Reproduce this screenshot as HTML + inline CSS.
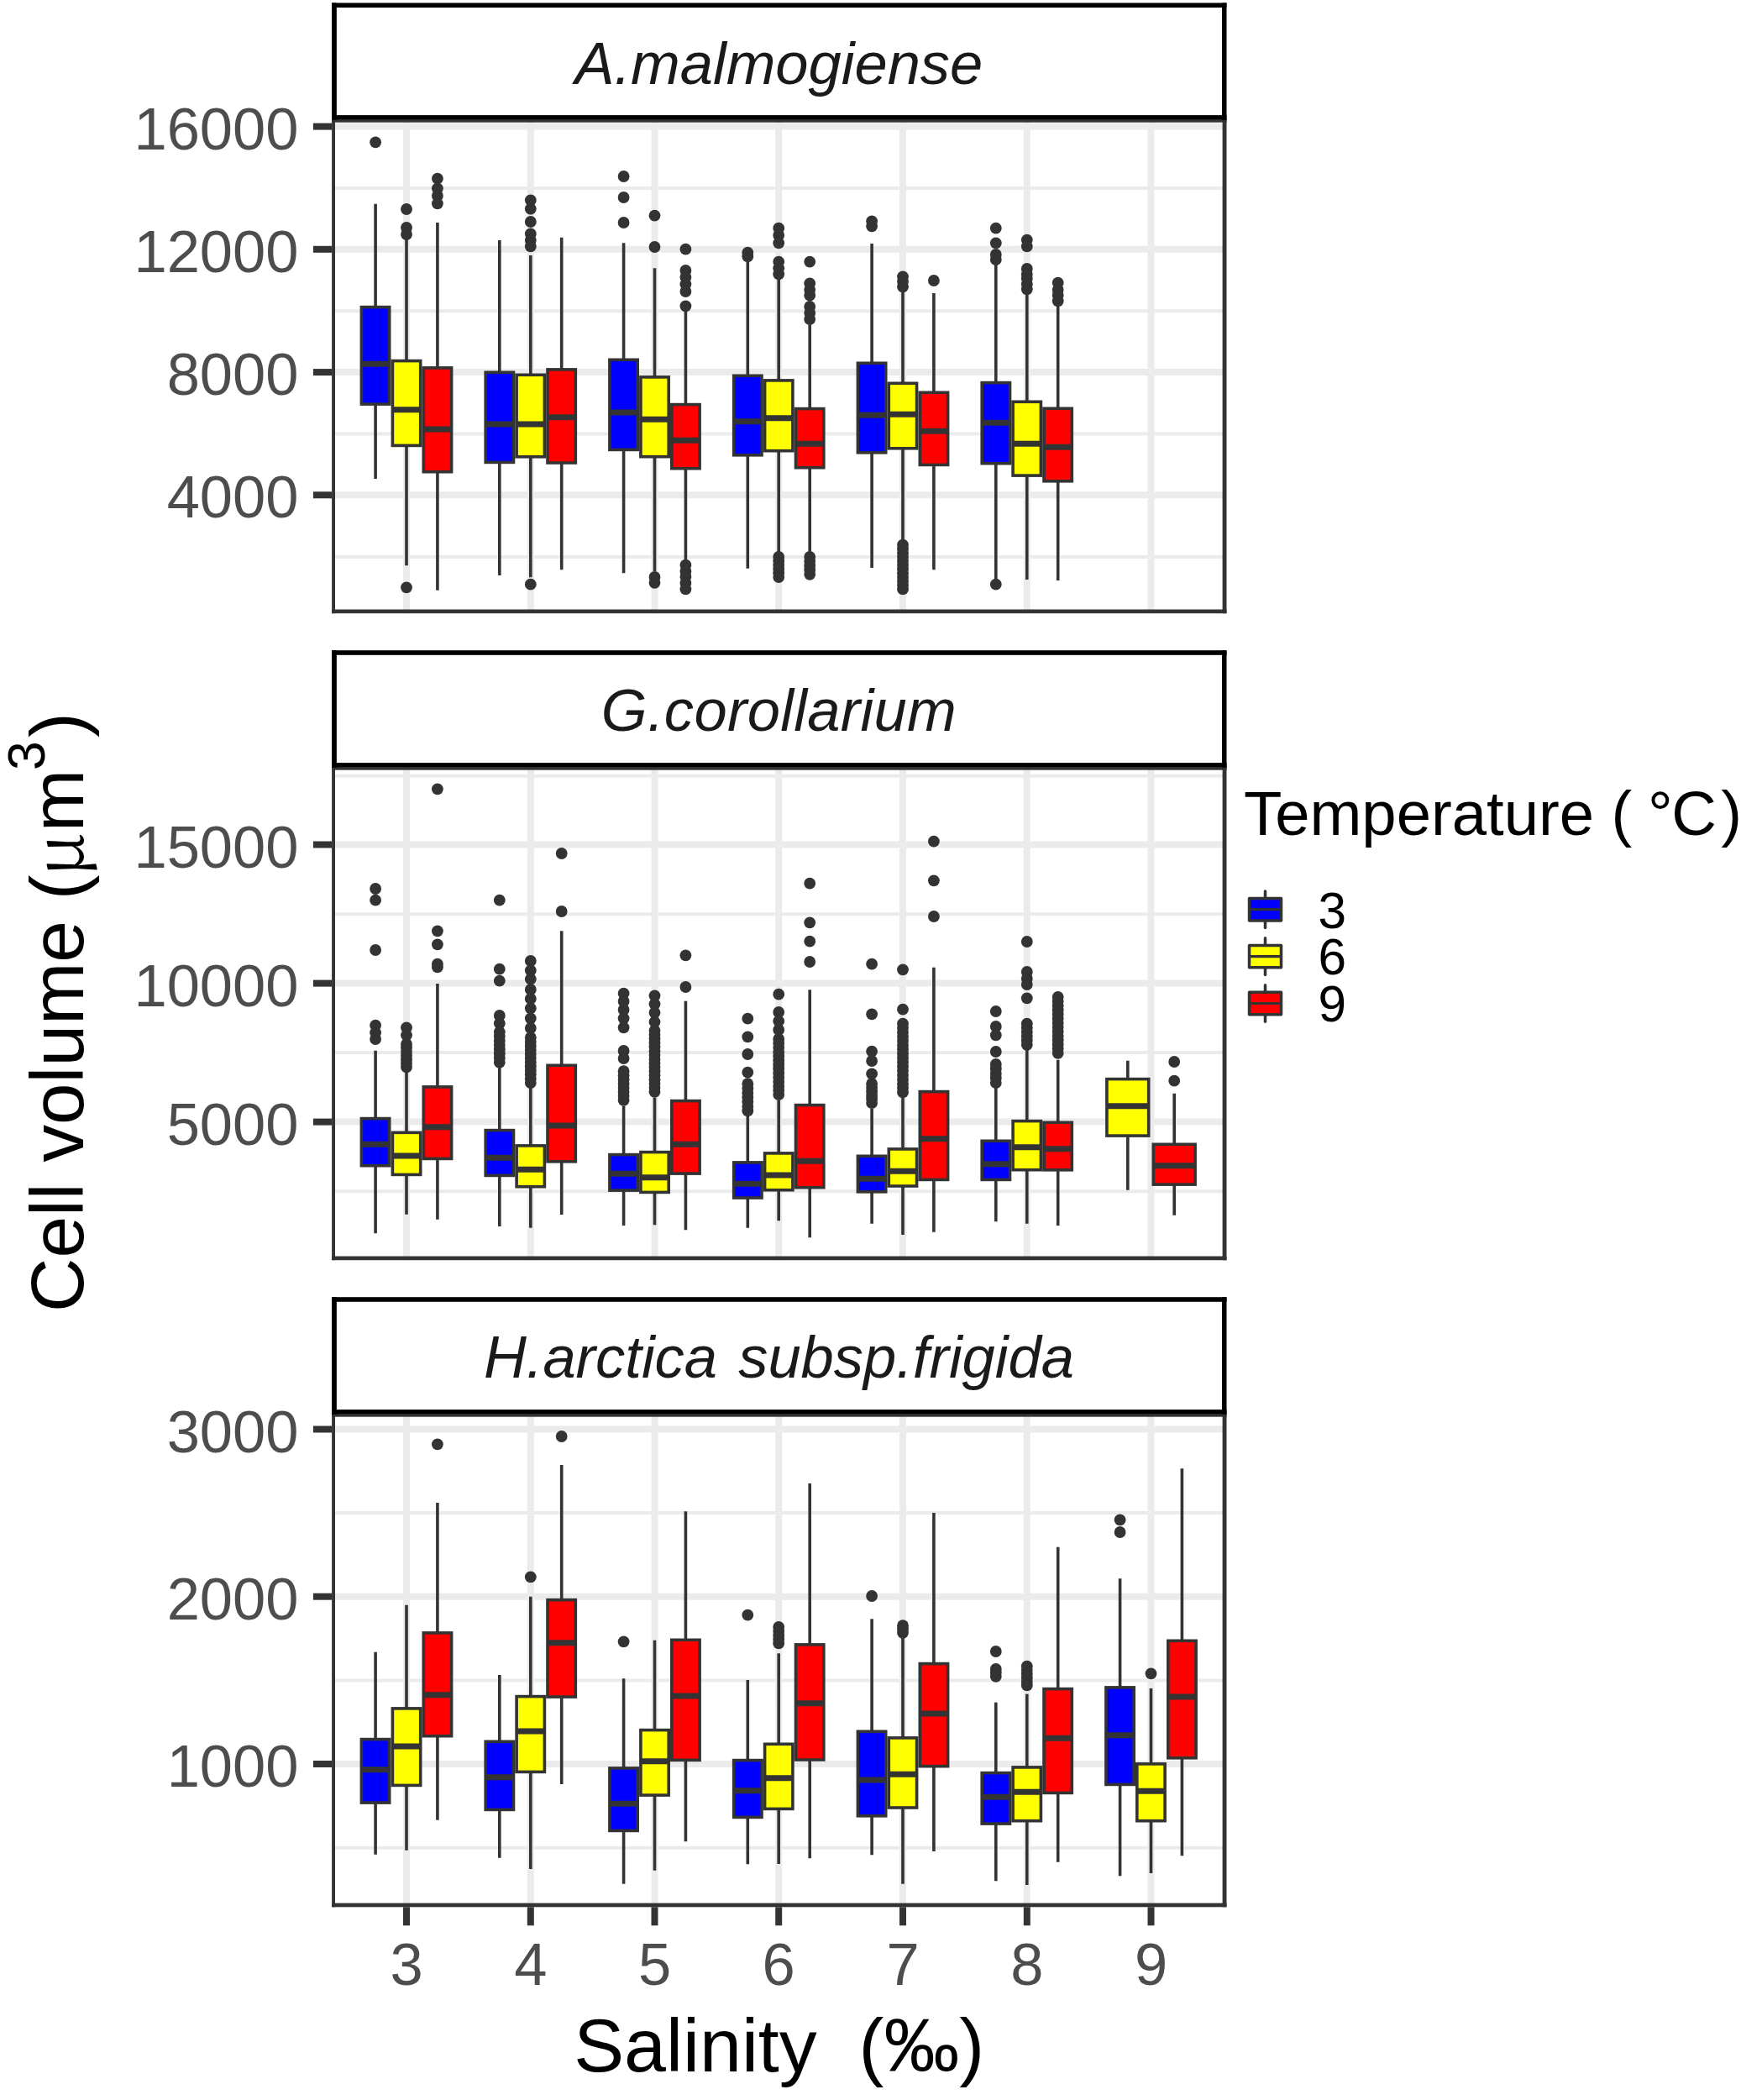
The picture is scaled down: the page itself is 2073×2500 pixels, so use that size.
<!DOCTYPE html>
<html lang="en"><head><meta charset="utf-8"><title>Cell volume vs salinity</title>
<style>html,body{margin:0;padding:0;background:#fff}svg{display:block}text{font-family:"Liberation Sans",sans-serif}.ax{font-size:70.5px;fill:#4D4D4D}.st{font-size:70.5px;fill:#1A1A1A;font-style:italic}.tt{font-size:90px;fill:#000}.lt{font-size:74.3px;fill:#000}.mu{font-family:"Noto Serif CJK SC","Liberation Serif",serif;font-style:normal}.ll{font-size:60.3px;fill:#000}</style></head><body>
<svg width="2073" height="2500" viewBox="0 0 2073 2500">
<rect x="0" y="0" width="2073" height="2500" fill="#fff"/>
<defs>
<clipPath id="cp0"><rect x="395.1" y="142.8" width="1064.5" height="587.4"/></clipPath>
<clipPath id="cp1"><rect x="395.1" y="913.8" width="1064.5" height="586.4"/></clipPath>
<clipPath id="cp2"><rect x="395.1" y="1683.8" width="1064.5" height="586.5"/></clipPath>
</defs>
<g clip-path="url(#cp0)">
<line x1="395.1" x2="1459.6" y1="224.0" y2="224.0" stroke="#EBEBEB" stroke-width="4"/>
<line x1="395.1" x2="1459.6" y1="370.3" y2="370.3" stroke="#EBEBEB" stroke-width="4"/>
<line x1="395.1" x2="1459.6" y1="516.5" y2="516.5" stroke="#EBEBEB" stroke-width="4"/>
<line x1="395.1" x2="1459.6" y1="663.0" y2="663.0" stroke="#EBEBEB" stroke-width="4"/>
<line x1="395.1" x2="1459.6" y1="150.6" y2="150.6" stroke="#EBEBEB" stroke-width="8"/>
<line x1="395.1" x2="1459.6" y1="296.8" y2="296.8" stroke="#EBEBEB" stroke-width="8"/>
<line x1="395.1" x2="1459.6" y1="443.1" y2="443.1" stroke="#EBEBEB" stroke-width="8"/>
<line x1="395.1" x2="1459.6" y1="589.3" y2="589.3" stroke="#EBEBEB" stroke-width="8"/>
<line x1="484.0" x2="484.0" y1="142.8" y2="730.2" stroke="#EBEBEB" stroke-width="8"/>
<line x1="631.8" x2="631.8" y1="142.8" y2="730.2" stroke="#EBEBEB" stroke-width="8"/>
<line x1="779.5" x2="779.5" y1="142.8" y2="730.2" stroke="#EBEBEB" stroke-width="8"/>
<line x1="927.2" x2="927.2" y1="142.8" y2="730.2" stroke="#EBEBEB" stroke-width="8"/>
<line x1="1075.0" x2="1075.0" y1="142.8" y2="730.2" stroke="#EBEBEB" stroke-width="8"/>
<line x1="1222.8" x2="1222.8" y1="142.8" y2="730.2" stroke="#EBEBEB" stroke-width="8"/>
<line x1="1370.5" x2="1370.5" y1="142.8" y2="730.2" stroke="#EBEBEB" stroke-width="8"/>
<circle cx="447.1" cy="169.3" r="6.9" fill="#333333"/>
<line x1="447.1" x2="447.1" y1="242.7" y2="365.6" stroke="#333333" stroke-width="3.6"/>
<line x1="447.1" x2="447.1" y1="481.1" y2="570.0" stroke="#333333" stroke-width="3.6"/>
<rect x="430.4" y="365.6" width="33.3" height="115.5" fill="#0000FF" stroke="#333333" stroke-width="3.6"/>
<line x1="430.4" x2="463.7" y1="433.3" y2="433.3" stroke="#333333" stroke-width="6.9"/>
<circle cx="484.0" cy="249.0" r="6.9" fill="#333333"/>
<circle cx="484.0" cy="271.0" r="6.9" fill="#333333"/>
<circle cx="484.0" cy="279.0" r="6.9" fill="#333333"/>
<circle cx="484.0" cy="699.3" r="6.9" fill="#333333"/>
<line x1="484.0" x2="484.0" y1="285.0" y2="429.6" stroke="#333333" stroke-width="3.6"/>
<line x1="484.0" x2="484.0" y1="530.4" y2="673.3" stroke="#333333" stroke-width="3.6"/>
<rect x="467.4" y="429.6" width="33.3" height="100.8" fill="#FFFF00" stroke="#333333" stroke-width="3.6"/>
<line x1="467.4" x2="500.6" y1="487.7" y2="487.7" stroke="#333333" stroke-width="6.9"/>
<circle cx="520.9" cy="212.7" r="6.9" fill="#333333"/>
<circle cx="520.9" cy="224.3" r="6.9" fill="#333333"/>
<circle cx="520.9" cy="233.0" r="6.9" fill="#333333"/>
<circle cx="520.9" cy="242.3" r="6.9" fill="#333333"/>
<line x1="520.9" x2="520.9" y1="265.0" y2="437.9" stroke="#333333" stroke-width="3.6"/>
<line x1="520.9" x2="520.9" y1="561.7" y2="702.7" stroke="#333333" stroke-width="3.6"/>
<rect x="504.3" y="437.9" width="33.3" height="123.8" fill="#FF0000" stroke="#333333" stroke-width="3.6"/>
<line x1="504.3" x2="537.6" y1="511.0" y2="511.0" stroke="#333333" stroke-width="6.9"/>
<line x1="594.8" x2="594.8" y1="286.0" y2="443.3" stroke="#333333" stroke-width="3.6"/>
<line x1="594.8" x2="594.8" y1="550.4" y2="685.0" stroke="#333333" stroke-width="3.6"/>
<rect x="578.2" y="443.3" width="33.3" height="107.1" fill="#0000FF" stroke="#333333" stroke-width="3.6"/>
<line x1="578.2" x2="611.5" y1="505.0" y2="505.0" stroke="#333333" stroke-width="6.9"/>
<circle cx="631.8" cy="238.3" r="6.9" fill="#333333"/>
<circle cx="631.8" cy="248.7" r="6.9" fill="#333333"/>
<circle cx="631.8" cy="264.0" r="6.9" fill="#333333"/>
<circle cx="631.8" cy="278.3" r="6.9" fill="#333333"/>
<circle cx="631.8" cy="286.0" r="6.9" fill="#333333"/>
<circle cx="631.8" cy="293.3" r="6.9" fill="#333333"/>
<circle cx="631.8" cy="695.7" r="6.9" fill="#333333"/>
<line x1="631.8" x2="631.8" y1="304.0" y2="446.3" stroke="#333333" stroke-width="3.6"/>
<line x1="631.8" x2="631.8" y1="543.7" y2="687.3" stroke="#333333" stroke-width="3.6"/>
<rect x="615.1" y="446.3" width="33.3" height="97.5" fill="#FFFF00" stroke="#333333" stroke-width="3.6"/>
<line x1="615.1" x2="648.4" y1="505.0" y2="505.0" stroke="#333333" stroke-width="6.9"/>
<line x1="668.7" x2="668.7" y1="282.7" y2="439.9" stroke="#333333" stroke-width="3.6"/>
<line x1="668.7" x2="668.7" y1="551.1" y2="678.3" stroke="#333333" stroke-width="3.6"/>
<rect x="652.0" y="439.9" width="33.3" height="111.1" fill="#FF0000" stroke="#333333" stroke-width="3.6"/>
<line x1="652.0" x2="685.3" y1="496.7" y2="496.7" stroke="#333333" stroke-width="6.9"/>
<circle cx="742.6" cy="210.0" r="6.9" fill="#333333"/>
<circle cx="742.6" cy="235.0" r="6.9" fill="#333333"/>
<circle cx="742.6" cy="265.0" r="6.9" fill="#333333"/>
<line x1="742.6" x2="742.6" y1="289.3" y2="428.3" stroke="#333333" stroke-width="3.6"/>
<line x1="742.6" x2="742.6" y1="535.4" y2="682.3" stroke="#333333" stroke-width="3.6"/>
<rect x="725.9" y="428.3" width="33.3" height="107.1" fill="#0000FF" stroke="#333333" stroke-width="3.6"/>
<line x1="725.9" x2="759.2" y1="491.0" y2="491.0" stroke="#333333" stroke-width="6.9"/>
<circle cx="779.5" cy="256.7" r="6.9" fill="#333333"/>
<circle cx="779.5" cy="294.0" r="6.9" fill="#333333"/>
<circle cx="779.5" cy="686.9" r="6.9" fill="#333333"/>
<circle cx="779.5" cy="693.8" r="6.9" fill="#333333"/>
<line x1="779.5" x2="779.5" y1="319.3" y2="448.9" stroke="#333333" stroke-width="3.6"/>
<line x1="779.5" x2="779.5" y1="543.7" y2="680.0" stroke="#333333" stroke-width="3.6"/>
<rect x="762.9" y="448.9" width="33.3" height="94.8" fill="#FFFF00" stroke="#333333" stroke-width="3.6"/>
<line x1="762.9" x2="796.1" y1="499.3" y2="499.3" stroke="#333333" stroke-width="6.9"/>
<circle cx="816.4" cy="296.7" r="6.9" fill="#333333"/>
<circle cx="816.4" cy="322.0" r="6.9" fill="#333333"/>
<circle cx="816.4" cy="330.0" r="6.9" fill="#333333"/>
<circle cx="816.4" cy="338.3" r="6.9" fill="#333333"/>
<circle cx="816.4" cy="347.0" r="6.9" fill="#333333"/>
<circle cx="816.4" cy="364.3" r="6.9" fill="#333333"/>
<circle cx="816.4" cy="672.7" r="6.9" fill="#333333"/>
<circle cx="816.4" cy="680.0" r="6.9" fill="#333333"/>
<circle cx="816.4" cy="686.7" r="6.9" fill="#333333"/>
<circle cx="816.4" cy="694.0" r="6.9" fill="#333333"/>
<circle cx="816.4" cy="701.3" r="6.9" fill="#333333"/>
<line x1="816.4" x2="816.4" y1="370.0" y2="481.6" stroke="#333333" stroke-width="3.6"/>
<line x1="816.4" x2="816.4" y1="557.7" y2="666.7" stroke="#333333" stroke-width="3.6"/>
<rect x="799.8" y="481.6" width="33.3" height="76.1" fill="#FF0000" stroke="#333333" stroke-width="3.6"/>
<line x1="799.8" x2="833.1" y1="524.3" y2="524.3" stroke="#333333" stroke-width="6.9"/>
<circle cx="890.3" cy="300.7" r="6.9" fill="#333333"/>
<circle cx="890.3" cy="305.3" r="6.9" fill="#333333"/>
<line x1="890.3" x2="890.3" y1="311.7" y2="447.3" stroke="#333333" stroke-width="3.6"/>
<line x1="890.3" x2="890.3" y1="541.7" y2="676.7" stroke="#333333" stroke-width="3.6"/>
<rect x="873.7" y="447.3" width="33.3" height="94.5" fill="#0000FF" stroke="#333333" stroke-width="3.6"/>
<line x1="873.7" x2="907.0" y1="501.7" y2="501.7" stroke="#333333" stroke-width="6.9"/>
<circle cx="927.2" cy="271.7" r="6.9" fill="#333333"/>
<circle cx="927.2" cy="280.0" r="6.9" fill="#333333"/>
<circle cx="927.2" cy="289.3" r="6.9" fill="#333333"/>
<circle cx="927.2" cy="311.7" r="6.9" fill="#333333"/>
<circle cx="927.2" cy="319.3" r="6.9" fill="#333333"/>
<circle cx="927.2" cy="326.3" r="6.9" fill="#333333"/>
<circle cx="927.2" cy="662.9" r="6.9" fill="#333333"/>
<circle cx="927.2" cy="667.7" r="6.9" fill="#333333"/>
<circle cx="927.2" cy="672.6" r="6.9" fill="#333333"/>
<circle cx="927.2" cy="677.4" r="6.9" fill="#333333"/>
<circle cx="927.2" cy="682.3" r="6.9" fill="#333333"/>
<circle cx="927.2" cy="687.1" r="6.9" fill="#333333"/>
<line x1="927.2" x2="927.2" y1="330.0" y2="452.9" stroke="#333333" stroke-width="3.6"/>
<line x1="927.2" x2="927.2" y1="536.7" y2="658.3" stroke="#333333" stroke-width="3.6"/>
<rect x="910.6" y="452.9" width="33.3" height="83.8" fill="#FFFF00" stroke="#333333" stroke-width="3.6"/>
<line x1="910.6" x2="943.9" y1="497.7" y2="497.7" stroke="#333333" stroke-width="6.9"/>
<circle cx="964.2" cy="311.7" r="6.9" fill="#333333"/>
<circle cx="964.2" cy="337.3" r="6.9" fill="#333333"/>
<circle cx="964.2" cy="345.0" r="6.9" fill="#333333"/>
<circle cx="964.2" cy="351.7" r="6.9" fill="#333333"/>
<circle cx="964.2" cy="365.0" r="6.9" fill="#333333"/>
<circle cx="964.2" cy="372.7" r="6.9" fill="#333333"/>
<circle cx="964.2" cy="380.0" r="6.9" fill="#333333"/>
<circle cx="964.2" cy="662.9" r="6.9" fill="#333333"/>
<circle cx="964.2" cy="668.1" r="6.9" fill="#333333"/>
<circle cx="964.2" cy="673.3" r="6.9" fill="#333333"/>
<circle cx="964.2" cy="678.5" r="6.9" fill="#333333"/>
<circle cx="964.2" cy="683.8" r="6.9" fill="#333333"/>
<line x1="964.2" x2="964.2" y1="386.7" y2="486.6" stroke="#333333" stroke-width="3.6"/>
<line x1="964.2" x2="964.2" y1="556.7" y2="656.7" stroke="#333333" stroke-width="3.6"/>
<rect x="947.5" y="486.6" width="33.3" height="70.1" fill="#FF0000" stroke="#333333" stroke-width="3.6"/>
<line x1="947.5" x2="980.8" y1="528.3" y2="528.3" stroke="#333333" stroke-width="6.9"/>
<circle cx="1038.1" cy="263.3" r="6.9" fill="#333333"/>
<circle cx="1038.1" cy="269.3" r="6.9" fill="#333333"/>
<line x1="1038.1" x2="1038.1" y1="290.0" y2="432.3" stroke="#333333" stroke-width="3.6"/>
<line x1="1038.1" x2="1038.1" y1="538.7" y2="676.0" stroke="#333333" stroke-width="3.6"/>
<rect x="1021.4" y="432.3" width="33.3" height="106.5" fill="#0000FF" stroke="#333333" stroke-width="3.6"/>
<line x1="1021.4" x2="1054.7" y1="494.3" y2="494.3" stroke="#333333" stroke-width="6.9"/>
<circle cx="1075.0" cy="329.3" r="6.9" fill="#333333"/>
<circle cx="1075.0" cy="335.0" r="6.9" fill="#333333"/>
<circle cx="1075.0" cy="341.3" r="6.9" fill="#333333"/>
<circle cx="1075.0" cy="648.6" r="6.9" fill="#333333"/>
<circle cx="1075.0" cy="653.4" r="6.9" fill="#333333"/>
<circle cx="1075.0" cy="658.2" r="6.9" fill="#333333"/>
<circle cx="1075.0" cy="663.0" r="6.9" fill="#333333"/>
<circle cx="1075.0" cy="667.8" r="6.9" fill="#333333"/>
<circle cx="1075.0" cy="672.6" r="6.9" fill="#333333"/>
<circle cx="1075.0" cy="677.4" r="6.9" fill="#333333"/>
<circle cx="1075.0" cy="682.2" r="6.9" fill="#333333"/>
<circle cx="1075.0" cy="687.0" r="6.9" fill="#333333"/>
<circle cx="1075.0" cy="691.8" r="6.9" fill="#333333"/>
<circle cx="1075.0" cy="696.6" r="6.9" fill="#333333"/>
<circle cx="1075.0" cy="701.4" r="6.9" fill="#333333"/>
<line x1="1075.0" x2="1075.0" y1="346.7" y2="456.3" stroke="#333333" stroke-width="3.6"/>
<line x1="1075.0" x2="1075.0" y1="533.7" y2="643.3" stroke="#333333" stroke-width="3.6"/>
<rect x="1058.3" y="456.3" width="33.3" height="77.5" fill="#FFFF00" stroke="#333333" stroke-width="3.6"/>
<line x1="1058.3" x2="1091.7" y1="493.3" y2="493.3" stroke="#333333" stroke-width="6.9"/>
<circle cx="1111.9" cy="334.0" r="6.9" fill="#333333"/>
<line x1="1111.9" x2="1111.9" y1="349.0" y2="467.3" stroke="#333333" stroke-width="3.6"/>
<line x1="1111.9" x2="1111.9" y1="553.4" y2="678.3" stroke="#333333" stroke-width="3.6"/>
<rect x="1095.3" y="467.3" width="33.3" height="86.1" fill="#FF0000" stroke="#333333" stroke-width="3.6"/>
<line x1="1095.3" x2="1128.6" y1="513.3" y2="513.3" stroke="#333333" stroke-width="6.9"/>
<circle cx="1185.8" cy="271.7" r="6.9" fill="#333333"/>
<circle cx="1185.8" cy="289.3" r="6.9" fill="#333333"/>
<circle cx="1185.8" cy="303.0" r="6.9" fill="#333333"/>
<circle cx="1185.8" cy="309.0" r="6.9" fill="#333333"/>
<circle cx="1185.8" cy="695.7" r="6.9" fill="#333333"/>
<line x1="1185.8" x2="1185.8" y1="315.0" y2="455.6" stroke="#333333" stroke-width="3.6"/>
<line x1="1185.8" x2="1185.8" y1="551.7" y2="690.0" stroke="#333333" stroke-width="3.6"/>
<rect x="1169.2" y="455.6" width="33.3" height="96.1" fill="#0000FF" stroke="#333333" stroke-width="3.6"/>
<line x1="1169.2" x2="1202.5" y1="503.3" y2="503.3" stroke="#333333" stroke-width="6.9"/>
<circle cx="1222.8" cy="285.7" r="6.9" fill="#333333"/>
<circle cx="1222.8" cy="293.3" r="6.9" fill="#333333"/>
<circle cx="1222.8" cy="320.0" r="6.9" fill="#333333"/>
<circle cx="1222.8" cy="326.7" r="6.9" fill="#333333"/>
<circle cx="1222.8" cy="331.7" r="6.9" fill="#333333"/>
<circle cx="1222.8" cy="338.3" r="6.9" fill="#333333"/>
<circle cx="1222.8" cy="344.3" r="6.9" fill="#333333"/>
<line x1="1222.8" x2="1222.8" y1="350.0" y2="478.3" stroke="#333333" stroke-width="3.6"/>
<line x1="1222.8" x2="1222.8" y1="566.1" y2="690.0" stroke="#333333" stroke-width="3.6"/>
<rect x="1206.1" y="478.3" width="33.3" height="87.8" fill="#FFFF00" stroke="#333333" stroke-width="3.6"/>
<line x1="1206.1" x2="1239.4" y1="528.3" y2="528.3" stroke="#333333" stroke-width="6.9"/>
<circle cx="1259.7" cy="336.7" r="6.9" fill="#333333"/>
<circle cx="1259.7" cy="345.0" r="6.9" fill="#333333"/>
<circle cx="1259.7" cy="351.7" r="6.9" fill="#333333"/>
<circle cx="1259.7" cy="358.3" r="6.9" fill="#333333"/>
<line x1="1259.7" x2="1259.7" y1="365.0" y2="486.3" stroke="#333333" stroke-width="3.6"/>
<line x1="1259.7" x2="1259.7" y1="572.7" y2="691.0" stroke="#333333" stroke-width="3.6"/>
<rect x="1243.0" y="486.3" width="33.3" height="86.5" fill="#FF0000" stroke="#333333" stroke-width="3.6"/>
<line x1="1243.0" x2="1276.3" y1="532.3" y2="532.3" stroke="#333333" stroke-width="6.9"/>
</g>
<rect x="395.1" y="141.70" width="3.9" height="588.50" fill="#333333"/>
<rect x="1455.6" y="141.70" width="4.9" height="588.50" fill="#333333"/>
<rect x="395.1" y="141.70" width="1065.4" height="4.0" fill="#333333"/>
<rect x="395.1" y="725.50" width="1065.4" height="4.7" fill="#333333"/>
<rect x="395.0" y="3.45" width="1065.5" height="139.35" fill="#fff"/>
<rect x="395.0" y="3.45" width="5.85" height="139.35" fill="#000"/>
<rect x="1455.0" y="3.45" width="5.5" height="139.35" fill="#000"/>
<rect x="395.0" y="3.45" width="1065.5" height="5.6" fill="#000"/>
<rect x="395.0" y="137.10" width="1065.5" height="5.7" fill="#000"/>
<line x1="372.9" x2="395.1" y1="150.6" y2="150.6" stroke="#333333" stroke-width="8"/>
<text class="ax" x="355.5" y="177.6" text-anchor="end">16000</text>
<line x1="372.9" x2="395.1" y1="296.8" y2="296.8" stroke="#333333" stroke-width="8"/>
<text class="ax" x="355.5" y="323.8" text-anchor="end">12000</text>
<line x1="372.9" x2="395.1" y1="443.1" y2="443.1" stroke="#333333" stroke-width="8"/>
<text class="ax" x="355.5" y="470.1" text-anchor="end">8000</text>
<line x1="372.9" x2="395.1" y1="589.3" y2="589.3" stroke="#333333" stroke-width="8"/>
<text class="ax" x="355.5" y="616.3" text-anchor="end">4000</text>
<g clip-path="url(#cp1)">
<line x1="395.1" x2="1459.6" y1="923.7" y2="923.7" stroke="#EBEBEB" stroke-width="4"/>
<line x1="395.1" x2="1459.6" y1="1088.2" y2="1088.2" stroke="#EBEBEB" stroke-width="4"/>
<line x1="395.1" x2="1459.6" y1="1253.0" y2="1253.0" stroke="#EBEBEB" stroke-width="4"/>
<line x1="395.1" x2="1459.6" y1="1418.2" y2="1418.2" stroke="#EBEBEB" stroke-width="4"/>
<line x1="395.1" x2="1459.6" y1="1005.5" y2="1005.5" stroke="#EBEBEB" stroke-width="8"/>
<line x1="395.1" x2="1459.6" y1="1170.6" y2="1170.6" stroke="#EBEBEB" stroke-width="8"/>
<line x1="395.1" x2="1459.6" y1="1335.6" y2="1335.6" stroke="#EBEBEB" stroke-width="8"/>
<line x1="484.0" x2="484.0" y1="913.8" y2="1500.2" stroke="#EBEBEB" stroke-width="8"/>
<line x1="631.8" x2="631.8" y1="913.8" y2="1500.2" stroke="#EBEBEB" stroke-width="8"/>
<line x1="779.5" x2="779.5" y1="913.8" y2="1500.2" stroke="#EBEBEB" stroke-width="8"/>
<line x1="927.2" x2="927.2" y1="913.8" y2="1500.2" stroke="#EBEBEB" stroke-width="8"/>
<line x1="1075.0" x2="1075.0" y1="913.8" y2="1500.2" stroke="#EBEBEB" stroke-width="8"/>
<line x1="1222.8" x2="1222.8" y1="913.8" y2="1500.2" stroke="#EBEBEB" stroke-width="8"/>
<line x1="1370.5" x2="1370.5" y1="913.8" y2="1500.2" stroke="#EBEBEB" stroke-width="8"/>
<circle cx="447.1" cy="1058.0" r="6.9" fill="#333333"/>
<circle cx="447.1" cy="1071.7" r="6.9" fill="#333333"/>
<circle cx="447.1" cy="1131.0" r="6.9" fill="#333333"/>
<circle cx="447.1" cy="1220.7" r="6.9" fill="#333333"/>
<circle cx="447.1" cy="1229.3" r="6.9" fill="#333333"/>
<circle cx="447.1" cy="1237.0" r="6.9" fill="#333333"/>
<line x1="447.1" x2="447.1" y1="1250.7" y2="1331.6" stroke="#333333" stroke-width="3.6"/>
<line x1="447.1" x2="447.1" y1="1387.7" y2="1468.3" stroke="#333333" stroke-width="3.6"/>
<rect x="430.4" y="1331.6" width="33.3" height="56.1" fill="#0000FF" stroke="#333333" stroke-width="3.6"/>
<line x1="430.4" x2="463.7" y1="1362.3" y2="1362.3" stroke="#333333" stroke-width="6.9"/>
<circle cx="484.0" cy="1223.3" r="6.9" fill="#333333"/>
<circle cx="484.0" cy="1232.3" r="6.9" fill="#333333"/>
<circle cx="484.0" cy="1242.9" r="6.9" fill="#333333"/>
<circle cx="484.0" cy="1247.5" r="6.9" fill="#333333"/>
<circle cx="484.0" cy="1252.1" r="6.9" fill="#333333"/>
<circle cx="484.0" cy="1256.7" r="6.9" fill="#333333"/>
<circle cx="484.0" cy="1261.3" r="6.9" fill="#333333"/>
<circle cx="484.0" cy="1265.8" r="6.9" fill="#333333"/>
<circle cx="484.0" cy="1270.4" r="6.9" fill="#333333"/>
<line x1="484.0" x2="484.0" y1="1276.7" y2="1348.3" stroke="#333333" stroke-width="3.6"/>
<line x1="484.0" x2="484.0" y1="1398.4" y2="1445.7" stroke="#333333" stroke-width="3.6"/>
<rect x="467.4" y="1348.3" width="33.3" height="50.1" fill="#FFFF00" stroke="#333333" stroke-width="3.6"/>
<line x1="467.4" x2="500.6" y1="1376.0" y2="1376.0" stroke="#333333" stroke-width="6.9"/>
<circle cx="520.9" cy="939.3" r="6.9" fill="#333333"/>
<circle cx="520.9" cy="1108.3" r="6.9" fill="#333333"/>
<circle cx="520.9" cy="1124.3" r="6.9" fill="#333333"/>
<circle cx="520.9" cy="1147.6" r="6.9" fill="#333333"/>
<circle cx="520.9" cy="1151.4" r="6.9" fill="#333333"/>
<line x1="520.9" x2="520.9" y1="1171.0" y2="1293.9" stroke="#333333" stroke-width="3.6"/>
<line x1="520.9" x2="520.9" y1="1379.4" y2="1451.7" stroke="#333333" stroke-width="3.6"/>
<rect x="504.3" y="1293.9" width="33.3" height="85.5" fill="#FF0000" stroke="#333333" stroke-width="3.6"/>
<line x1="504.3" x2="537.6" y1="1341.7" y2="1341.7" stroke="#333333" stroke-width="6.9"/>
<circle cx="594.8" cy="1071.7" r="6.9" fill="#333333"/>
<circle cx="594.8" cy="1153.7" r="6.9" fill="#333333"/>
<circle cx="594.8" cy="1167.7" r="6.9" fill="#333333"/>
<circle cx="594.8" cy="1209.0" r="6.9" fill="#333333"/>
<circle cx="594.8" cy="1218.3" r="6.9" fill="#333333"/>
<circle cx="594.8" cy="1228.6" r="6.9" fill="#333333"/>
<circle cx="594.8" cy="1233.7" r="6.9" fill="#333333"/>
<circle cx="594.8" cy="1238.9" r="6.9" fill="#333333"/>
<circle cx="594.8" cy="1244.1" r="6.9" fill="#333333"/>
<circle cx="594.8" cy="1249.3" r="6.9" fill="#333333"/>
<circle cx="594.8" cy="1254.4" r="6.9" fill="#333333"/>
<circle cx="594.8" cy="1259.6" r="6.9" fill="#333333"/>
<circle cx="594.8" cy="1264.8" r="6.9" fill="#333333"/>
<line x1="594.8" x2="594.8" y1="1270.0" y2="1345.6" stroke="#333333" stroke-width="3.6"/>
<line x1="594.8" x2="594.8" y1="1399.4" y2="1460.0" stroke="#333333" stroke-width="3.6"/>
<rect x="578.2" y="1345.6" width="33.3" height="53.8" fill="#0000FF" stroke="#333333" stroke-width="3.6"/>
<line x1="578.2" x2="611.5" y1="1378.3" y2="1378.3" stroke="#333333" stroke-width="6.9"/>
<circle cx="631.8" cy="1144.0" r="6.9" fill="#333333"/>
<circle cx="631.8" cy="1155.3" r="6.9" fill="#333333"/>
<circle cx="631.8" cy="1165.7" r="6.9" fill="#333333"/>
<circle cx="631.8" cy="1178.0" r="6.9" fill="#333333"/>
<circle cx="631.8" cy="1189.0" r="6.9" fill="#333333"/>
<circle cx="631.8" cy="1200.3" r="6.9" fill="#333333"/>
<circle cx="631.8" cy="1212.3" r="6.9" fill="#333333"/>
<circle cx="631.8" cy="1224.0" r="6.9" fill="#333333"/>
<circle cx="631.8" cy="1235.2" r="6.9" fill="#333333"/>
<circle cx="631.8" cy="1240.1" r="6.9" fill="#333333"/>
<circle cx="631.8" cy="1245.0" r="6.9" fill="#333333"/>
<circle cx="631.8" cy="1249.9" r="6.9" fill="#333333"/>
<circle cx="631.8" cy="1254.8" r="6.9" fill="#333333"/>
<circle cx="631.8" cy="1259.7" r="6.9" fill="#333333"/>
<circle cx="631.8" cy="1264.6" r="6.9" fill="#333333"/>
<circle cx="631.8" cy="1269.5" r="6.9" fill="#333333"/>
<circle cx="631.8" cy="1274.4" r="6.9" fill="#333333"/>
<circle cx="631.8" cy="1279.3" r="6.9" fill="#333333"/>
<circle cx="631.8" cy="1284.2" r="6.9" fill="#333333"/>
<circle cx="631.8" cy="1289.1" r="6.9" fill="#333333"/>
<line x1="631.8" x2="631.8" y1="1295.0" y2="1363.9" stroke="#333333" stroke-width="3.6"/>
<line x1="631.8" x2="631.8" y1="1412.7" y2="1461.7" stroke="#333333" stroke-width="3.6"/>
<rect x="615.1" y="1363.9" width="33.3" height="48.8" fill="#FFFF00" stroke="#333333" stroke-width="3.6"/>
<line x1="615.1" x2="648.4" y1="1392.3" y2="1392.3" stroke="#333333" stroke-width="6.9"/>
<circle cx="668.7" cy="1016.0" r="6.9" fill="#333333"/>
<circle cx="668.7" cy="1085.0" r="6.9" fill="#333333"/>
<line x1="668.7" x2="668.7" y1="1108.3" y2="1268.3" stroke="#333333" stroke-width="3.6"/>
<line x1="668.7" x2="668.7" y1="1382.7" y2="1446.0" stroke="#333333" stroke-width="3.6"/>
<rect x="652.0" y="1268.3" width="33.3" height="114.5" fill="#FF0000" stroke="#333333" stroke-width="3.6"/>
<line x1="652.0" x2="685.3" y1="1340.0" y2="1340.0" stroke="#333333" stroke-width="6.9"/>
<circle cx="742.6" cy="1182.7" r="6.9" fill="#333333"/>
<circle cx="742.6" cy="1192.0" r="6.9" fill="#333333"/>
<circle cx="742.6" cy="1202.0" r="6.9" fill="#333333"/>
<circle cx="742.6" cy="1212.3" r="6.9" fill="#333333"/>
<circle cx="742.6" cy="1223.3" r="6.9" fill="#333333"/>
<circle cx="742.6" cy="1251.0" r="6.9" fill="#333333"/>
<circle cx="742.6" cy="1260.0" r="6.9" fill="#333333"/>
<circle cx="742.6" cy="1275.2" r="6.9" fill="#333333"/>
<circle cx="742.6" cy="1280.2" r="6.9" fill="#333333"/>
<circle cx="742.6" cy="1285.1" r="6.9" fill="#333333"/>
<circle cx="742.6" cy="1290.0" r="6.9" fill="#333333"/>
<circle cx="742.6" cy="1295.0" r="6.9" fill="#333333"/>
<circle cx="742.6" cy="1299.9" r="6.9" fill="#333333"/>
<circle cx="742.6" cy="1304.8" r="6.9" fill="#333333"/>
<circle cx="742.6" cy="1309.8" r="6.9" fill="#333333"/>
<line x1="742.6" x2="742.6" y1="1316.7" y2="1374.6" stroke="#333333" stroke-width="3.6"/>
<line x1="742.6" x2="742.6" y1="1417.1" y2="1459.0" stroke="#333333" stroke-width="3.6"/>
<rect x="725.9" y="1374.6" width="33.3" height="42.5" fill="#0000FF" stroke="#333333" stroke-width="3.6"/>
<line x1="725.9" x2="759.2" y1="1397.3" y2="1397.3" stroke="#333333" stroke-width="6.9"/>
<circle cx="779.5" cy="1185.3" r="6.9" fill="#333333"/>
<circle cx="779.5" cy="1195.3" r="6.9" fill="#333333"/>
<circle cx="779.5" cy="1205.7" r="6.9" fill="#333333"/>
<circle cx="779.5" cy="1216.7" r="6.9" fill="#333333"/>
<circle cx="779.5" cy="1226.9" r="6.9" fill="#333333"/>
<circle cx="779.5" cy="1231.8" r="6.9" fill="#333333"/>
<circle cx="779.5" cy="1236.6" r="6.9" fill="#333333"/>
<circle cx="779.5" cy="1241.5" r="6.9" fill="#333333"/>
<circle cx="779.5" cy="1246.3" r="6.9" fill="#333333"/>
<circle cx="779.5" cy="1251.2" r="6.9" fill="#333333"/>
<circle cx="779.5" cy="1256.0" r="6.9" fill="#333333"/>
<circle cx="779.5" cy="1260.9" r="6.9" fill="#333333"/>
<circle cx="779.5" cy="1265.8" r="6.9" fill="#333333"/>
<circle cx="779.5" cy="1270.6" r="6.9" fill="#333333"/>
<circle cx="779.5" cy="1275.5" r="6.9" fill="#333333"/>
<circle cx="779.5" cy="1280.3" r="6.9" fill="#333333"/>
<circle cx="779.5" cy="1285.2" r="6.9" fill="#333333"/>
<circle cx="779.5" cy="1290.1" r="6.9" fill="#333333"/>
<circle cx="779.5" cy="1294.9" r="6.9" fill="#333333"/>
<circle cx="779.5" cy="1299.8" r="6.9" fill="#333333"/>
<line x1="779.5" x2="779.5" y1="1306.7" y2="1371.6" stroke="#333333" stroke-width="3.6"/>
<line x1="779.5" x2="779.5" y1="1419.4" y2="1458.3" stroke="#333333" stroke-width="3.6"/>
<rect x="762.9" y="1371.6" width="33.3" height="47.8" fill="#FFFF00" stroke="#333333" stroke-width="3.6"/>
<line x1="762.9" x2="796.1" y1="1401.7" y2="1401.7" stroke="#333333" stroke-width="6.9"/>
<circle cx="816.4" cy="1137.3" r="6.9" fill="#333333"/>
<circle cx="816.4" cy="1175.0" r="6.9" fill="#333333"/>
<line x1="816.4" x2="816.4" y1="1191.7" y2="1310.6" stroke="#333333" stroke-width="3.6"/>
<line x1="816.4" x2="816.4" y1="1397.1" y2="1464.3" stroke="#333333" stroke-width="3.6"/>
<rect x="799.8" y="1310.6" width="33.3" height="86.5" fill="#FF0000" stroke="#333333" stroke-width="3.6"/>
<line x1="799.8" x2="833.1" y1="1362.3" y2="1362.3" stroke="#333333" stroke-width="6.9"/>
<circle cx="890.3" cy="1212.7" r="6.9" fill="#333333"/>
<circle cx="890.3" cy="1234.3" r="6.9" fill="#333333"/>
<circle cx="890.3" cy="1255.0" r="6.9" fill="#333333"/>
<circle cx="890.3" cy="1276.7" r="6.9" fill="#333333"/>
<circle cx="890.3" cy="1290.2" r="6.9" fill="#333333"/>
<circle cx="890.3" cy="1295.6" r="6.9" fill="#333333"/>
<circle cx="890.3" cy="1301.0" r="6.9" fill="#333333"/>
<circle cx="890.3" cy="1306.3" r="6.9" fill="#333333"/>
<circle cx="890.3" cy="1311.7" r="6.9" fill="#333333"/>
<circle cx="890.3" cy="1317.1" r="6.9" fill="#333333"/>
<circle cx="890.3" cy="1322.4" r="6.9" fill="#333333"/>
<line x1="890.3" x2="890.3" y1="1328.3" y2="1383.9" stroke="#333333" stroke-width="3.6"/>
<line x1="890.3" x2="890.3" y1="1426.1" y2="1461.7" stroke="#333333" stroke-width="3.6"/>
<rect x="873.7" y="1383.9" width="33.3" height="42.1" fill="#0000FF" stroke="#333333" stroke-width="3.6"/>
<line x1="873.7" x2="907.0" y1="1409.3" y2="1409.3" stroke="#333333" stroke-width="6.9"/>
<circle cx="927.2" cy="1183.7" r="6.9" fill="#333333"/>
<circle cx="927.2" cy="1205.0" r="6.9" fill="#333333"/>
<circle cx="927.2" cy="1215.7" r="6.9" fill="#333333"/>
<circle cx="927.2" cy="1226.0" r="6.9" fill="#333333"/>
<circle cx="927.2" cy="1236.9" r="6.9" fill="#333333"/>
<circle cx="927.2" cy="1242.0" r="6.9" fill="#333333"/>
<circle cx="927.2" cy="1247.1" r="6.9" fill="#333333"/>
<circle cx="927.2" cy="1252.2" r="6.9" fill="#333333"/>
<circle cx="927.2" cy="1257.3" r="6.9" fill="#333333"/>
<circle cx="927.2" cy="1262.4" r="6.9" fill="#333333"/>
<circle cx="927.2" cy="1267.5" r="6.9" fill="#333333"/>
<circle cx="927.2" cy="1272.5" r="6.9" fill="#333333"/>
<circle cx="927.2" cy="1277.6" r="6.9" fill="#333333"/>
<circle cx="927.2" cy="1282.7" r="6.9" fill="#333333"/>
<circle cx="927.2" cy="1287.8" r="6.9" fill="#333333"/>
<circle cx="927.2" cy="1292.9" r="6.9" fill="#333333"/>
<circle cx="927.2" cy="1298.0" r="6.9" fill="#333333"/>
<circle cx="927.2" cy="1303.1" r="6.9" fill="#333333"/>
<line x1="927.2" x2="927.2" y1="1310.0" y2="1372.9" stroke="#333333" stroke-width="3.6"/>
<line x1="927.2" x2="927.2" y1="1416.7" y2="1453.3" stroke="#333333" stroke-width="3.6"/>
<rect x="910.6" y="1372.9" width="33.3" height="43.8" fill="#FFFF00" stroke="#333333" stroke-width="3.6"/>
<line x1="910.6" x2="943.9" y1="1399.0" y2="1399.0" stroke="#333333" stroke-width="6.9"/>
<circle cx="964.2" cy="1051.7" r="6.9" fill="#333333"/>
<circle cx="964.2" cy="1098.3" r="6.9" fill="#333333"/>
<circle cx="964.2" cy="1120.7" r="6.9" fill="#333333"/>
<circle cx="964.2" cy="1145.0" r="6.9" fill="#333333"/>
<line x1="964.2" x2="964.2" y1="1178.3" y2="1315.6" stroke="#333333" stroke-width="3.6"/>
<line x1="964.2" x2="964.2" y1="1413.7" y2="1473.3" stroke="#333333" stroke-width="3.6"/>
<rect x="947.5" y="1315.6" width="33.3" height="98.1" fill="#FF0000" stroke="#333333" stroke-width="3.6"/>
<line x1="947.5" x2="980.8" y1="1382.3" y2="1382.3" stroke="#333333" stroke-width="6.9"/>
<circle cx="1038.1" cy="1147.7" r="6.9" fill="#333333"/>
<circle cx="1038.1" cy="1207.3" r="6.9" fill="#333333"/>
<circle cx="1038.1" cy="1251.7" r="6.9" fill="#333333"/>
<circle cx="1038.1" cy="1263.0" r="6.9" fill="#333333"/>
<circle cx="1038.1" cy="1278.3" r="6.9" fill="#333333"/>
<circle cx="1038.1" cy="1290.2" r="6.9" fill="#333333"/>
<circle cx="1038.1" cy="1294.8" r="6.9" fill="#333333"/>
<circle cx="1038.1" cy="1299.4" r="6.9" fill="#333333"/>
<circle cx="1038.1" cy="1304.0" r="6.9" fill="#333333"/>
<circle cx="1038.1" cy="1308.5" r="6.9" fill="#333333"/>
<circle cx="1038.1" cy="1313.1" r="6.9" fill="#333333"/>
<line x1="1038.1" x2="1038.1" y1="1320.0" y2="1376.3" stroke="#333333" stroke-width="3.6"/>
<line x1="1038.1" x2="1038.1" y1="1418.7" y2="1456.7" stroke="#333333" stroke-width="3.6"/>
<rect x="1021.4" y="1376.3" width="33.3" height="42.5" fill="#0000FF" stroke="#333333" stroke-width="3.6"/>
<line x1="1021.4" x2="1054.7" y1="1403.3" y2="1403.3" stroke="#333333" stroke-width="6.9"/>
<circle cx="1075.0" cy="1154.3" r="6.9" fill="#333333"/>
<circle cx="1075.0" cy="1201.7" r="6.9" fill="#333333"/>
<circle cx="1075.0" cy="1218.6" r="6.9" fill="#333333"/>
<circle cx="1075.0" cy="1223.7" r="6.9" fill="#333333"/>
<circle cx="1075.0" cy="1228.8" r="6.9" fill="#333333"/>
<circle cx="1075.0" cy="1233.9" r="6.9" fill="#333333"/>
<circle cx="1075.0" cy="1239.0" r="6.9" fill="#333333"/>
<circle cx="1075.0" cy="1244.2" r="6.9" fill="#333333"/>
<circle cx="1075.0" cy="1249.3" r="6.9" fill="#333333"/>
<circle cx="1075.0" cy="1254.4" r="6.9" fill="#333333"/>
<circle cx="1075.0" cy="1259.5" r="6.9" fill="#333333"/>
<circle cx="1075.0" cy="1264.6" r="6.9" fill="#333333"/>
<circle cx="1075.0" cy="1269.7" r="6.9" fill="#333333"/>
<circle cx="1075.0" cy="1274.8" r="6.9" fill="#333333"/>
<circle cx="1075.0" cy="1280.0" r="6.9" fill="#333333"/>
<circle cx="1075.0" cy="1285.1" r="6.9" fill="#333333"/>
<circle cx="1075.0" cy="1290.2" r="6.9" fill="#333333"/>
<circle cx="1075.0" cy="1295.3" r="6.9" fill="#333333"/>
<circle cx="1075.0" cy="1300.4" r="6.9" fill="#333333"/>
<line x1="1075.0" x2="1075.0" y1="1306.7" y2="1367.9" stroke="#333333" stroke-width="3.6"/>
<line x1="1075.0" x2="1075.0" y1="1412.1" y2="1470.0" stroke="#333333" stroke-width="3.6"/>
<rect x="1058.3" y="1367.9" width="33.3" height="44.1" fill="#FFFF00" stroke="#333333" stroke-width="3.6"/>
<line x1="1058.3" x2="1091.7" y1="1394.3" y2="1394.3" stroke="#333333" stroke-width="6.9"/>
<circle cx="1111.9" cy="1001.7" r="6.9" fill="#333333"/>
<circle cx="1111.9" cy="1048.3" r="6.9" fill="#333333"/>
<circle cx="1111.9" cy="1091.0" r="6.9" fill="#333333"/>
<line x1="1111.9" x2="1111.9" y1="1151.7" y2="1299.6" stroke="#333333" stroke-width="3.6"/>
<line x1="1111.9" x2="1111.9" y1="1404.4" y2="1466.7" stroke="#333333" stroke-width="3.6"/>
<rect x="1095.3" y="1299.6" width="33.3" height="104.8" fill="#FF0000" stroke="#333333" stroke-width="3.6"/>
<line x1="1095.3" x2="1128.6" y1="1355.7" y2="1355.7" stroke="#333333" stroke-width="6.9"/>
<circle cx="1185.8" cy="1204.0" r="6.9" fill="#333333"/>
<circle cx="1185.8" cy="1222.0" r="6.9" fill="#333333"/>
<circle cx="1185.8" cy="1232.3" r="6.9" fill="#333333"/>
<circle cx="1185.8" cy="1252.0" r="6.9" fill="#333333"/>
<circle cx="1185.8" cy="1266.9" r="6.9" fill="#333333"/>
<circle cx="1185.8" cy="1272.5" r="6.9" fill="#333333"/>
<circle cx="1185.8" cy="1278.0" r="6.9" fill="#333333"/>
<circle cx="1185.8" cy="1283.5" r="6.9" fill="#333333"/>
<circle cx="1185.8" cy="1289.1" r="6.9" fill="#333333"/>
<line x1="1185.8" x2="1185.8" y1="1295.0" y2="1358.3" stroke="#333333" stroke-width="3.6"/>
<line x1="1185.8" x2="1185.8" y1="1404.4" y2="1454.3" stroke="#333333" stroke-width="3.6"/>
<rect x="1169.2" y="1358.3" width="33.3" height="46.1" fill="#0000FF" stroke="#333333" stroke-width="3.6"/>
<line x1="1169.2" x2="1202.5" y1="1385.7" y2="1385.7" stroke="#333333" stroke-width="6.9"/>
<circle cx="1222.8" cy="1121.0" r="6.9" fill="#333333"/>
<circle cx="1222.8" cy="1157.0" r="6.9" fill="#333333"/>
<circle cx="1222.8" cy="1165.0" r="6.9" fill="#333333"/>
<circle cx="1222.8" cy="1172.0" r="6.9" fill="#333333"/>
<circle cx="1222.8" cy="1188.3" r="6.9" fill="#333333"/>
<circle cx="1222.8" cy="1218.6" r="6.9" fill="#333333"/>
<circle cx="1222.8" cy="1223.6" r="6.9" fill="#333333"/>
<circle cx="1222.8" cy="1228.6" r="6.9" fill="#333333"/>
<circle cx="1222.8" cy="1233.7" r="6.9" fill="#333333"/>
<circle cx="1222.8" cy="1238.7" r="6.9" fill="#333333"/>
<circle cx="1222.8" cy="1243.8" r="6.9" fill="#333333"/>
<line x1="1222.8" x2="1222.8" y1="1250.0" y2="1334.6" stroke="#333333" stroke-width="3.6"/>
<line x1="1222.8" x2="1222.8" y1="1392.7" y2="1456.7" stroke="#333333" stroke-width="3.6"/>
<rect x="1206.1" y="1334.6" width="33.3" height="58.1" fill="#FFFF00" stroke="#333333" stroke-width="3.6"/>
<line x1="1206.1" x2="1239.4" y1="1365.7" y2="1365.7" stroke="#333333" stroke-width="6.9"/>
<circle cx="1259.7" cy="1186.9" r="6.9" fill="#333333"/>
<circle cx="1259.7" cy="1192.0" r="6.9" fill="#333333"/>
<circle cx="1259.7" cy="1197.2" r="6.9" fill="#333333"/>
<circle cx="1259.7" cy="1202.3" r="6.9" fill="#333333"/>
<circle cx="1259.7" cy="1207.5" r="6.9" fill="#333333"/>
<circle cx="1259.7" cy="1212.6" r="6.9" fill="#333333"/>
<circle cx="1259.7" cy="1217.8" r="6.9" fill="#333333"/>
<circle cx="1259.7" cy="1222.9" r="6.9" fill="#333333"/>
<circle cx="1259.7" cy="1228.0" r="6.9" fill="#333333"/>
<circle cx="1259.7" cy="1233.2" r="6.9" fill="#333333"/>
<circle cx="1259.7" cy="1238.3" r="6.9" fill="#333333"/>
<circle cx="1259.7" cy="1243.5" r="6.9" fill="#333333"/>
<circle cx="1259.7" cy="1248.6" r="6.9" fill="#333333"/>
<circle cx="1259.7" cy="1253.8" r="6.9" fill="#333333"/>
<line x1="1259.7" x2="1259.7" y1="1261.7" y2="1336.3" stroke="#333333" stroke-width="3.6"/>
<line x1="1259.7" x2="1259.7" y1="1392.7" y2="1459.0" stroke="#333333" stroke-width="3.6"/>
<rect x="1243.0" y="1336.3" width="33.3" height="56.5" fill="#FF0000" stroke="#333333" stroke-width="3.6"/>
<line x1="1243.0" x2="1276.3" y1="1367.7" y2="1367.7" stroke="#333333" stroke-width="6.9"/>
<line x1="1342.8" x2="1342.8" y1="1262.7" y2="1284.6" stroke="#333333" stroke-width="3.6"/>
<line x1="1342.8" x2="1342.8" y1="1352.1" y2="1416.7" stroke="#333333" stroke-width="3.6"/>
<rect x="1317.9" y="1284.6" width="49.8" height="67.5" fill="#FFFF00" stroke="#333333" stroke-width="3.6"/>
<line x1="1317.9" x2="1367.7" y1="1316.7" y2="1316.7" stroke="#333333" stroke-width="6.9"/>
<circle cx="1398.2" cy="1264.0" r="6.9" fill="#333333"/>
<circle cx="1398.2" cy="1286.7" r="6.9" fill="#333333"/>
<line x1="1398.2" x2="1398.2" y1="1301.7" y2="1362.3" stroke="#333333" stroke-width="3.6"/>
<line x1="1398.2" x2="1398.2" y1="1410.1" y2="1446.7" stroke="#333333" stroke-width="3.6"/>
<rect x="1373.3" y="1362.3" width="49.8" height="47.8" fill="#FF0000" stroke="#333333" stroke-width="3.6"/>
<line x1="1373.3" x2="1423.1" y1="1387.7" y2="1387.7" stroke="#333333" stroke-width="6.9"/>
</g>
<rect x="395.1" y="912.70" width="3.9" height="587.50" fill="#333333"/>
<rect x="1455.6" y="912.70" width="4.9" height="587.50" fill="#333333"/>
<rect x="395.1" y="912.70" width="1065.4" height="4.0" fill="#333333"/>
<rect x="395.1" y="1495.50" width="1065.4" height="4.7" fill="#333333"/>
<rect x="395.0" y="774.20" width="1065.5" height="139.60" fill="#fff"/>
<rect x="395.0" y="774.20" width="5.85" height="139.60" fill="#000"/>
<rect x="1455.0" y="774.20" width="5.5" height="139.60" fill="#000"/>
<rect x="395.0" y="774.20" width="1065.5" height="5.6" fill="#000"/>
<rect x="395.0" y="908.10" width="1065.5" height="5.7" fill="#000"/>
<line x1="372.9" x2="395.1" y1="1005.5" y2="1005.5" stroke="#333333" stroke-width="8"/>
<text class="ax" x="355.5" y="1032.5" text-anchor="end">15000</text>
<line x1="372.9" x2="395.1" y1="1170.6" y2="1170.6" stroke="#333333" stroke-width="8"/>
<text class="ax" x="355.5" y="1197.6" text-anchor="end">10000</text>
<line x1="372.9" x2="395.1" y1="1335.6" y2="1335.6" stroke="#333333" stroke-width="8"/>
<text class="ax" x="355.5" y="1362.6" text-anchor="end">5000</text>
<g clip-path="url(#cp2)">
<line x1="395.1" x2="1459.6" y1="1801.0" y2="1801.0" stroke="#EBEBEB" stroke-width="4"/>
<line x1="395.1" x2="1459.6" y1="2000.5" y2="2000.5" stroke="#EBEBEB" stroke-width="4"/>
<line x1="395.1" x2="1459.6" y1="2199.8" y2="2199.8" stroke="#EBEBEB" stroke-width="4"/>
<line x1="395.1" x2="1459.6" y1="1701.5" y2="1701.5" stroke="#EBEBEB" stroke-width="8"/>
<line x1="395.1" x2="1459.6" y1="1900.7" y2="1900.7" stroke="#EBEBEB" stroke-width="8"/>
<line x1="395.1" x2="1459.6" y1="2100.0" y2="2100.0" stroke="#EBEBEB" stroke-width="8"/>
<line x1="484.0" x2="484.0" y1="1683.8" y2="2270.3" stroke="#EBEBEB" stroke-width="8"/>
<line x1="631.8" x2="631.8" y1="1683.8" y2="2270.3" stroke="#EBEBEB" stroke-width="8"/>
<line x1="779.5" x2="779.5" y1="1683.8" y2="2270.3" stroke="#EBEBEB" stroke-width="8"/>
<line x1="927.2" x2="927.2" y1="1683.8" y2="2270.3" stroke="#EBEBEB" stroke-width="8"/>
<line x1="1075.0" x2="1075.0" y1="1683.8" y2="2270.3" stroke="#EBEBEB" stroke-width="8"/>
<line x1="1222.8" x2="1222.8" y1="1683.8" y2="2270.3" stroke="#EBEBEB" stroke-width="8"/>
<line x1="1370.5" x2="1370.5" y1="1683.8" y2="2270.3" stroke="#EBEBEB" stroke-width="8"/>
<line x1="447.1" x2="447.1" y1="1966.7" y2="2070.6" stroke="#333333" stroke-width="3.6"/>
<line x1="447.1" x2="447.1" y1="2146.1" y2="2207.7" stroke="#333333" stroke-width="3.6"/>
<rect x="430.4" y="2070.6" width="33.3" height="75.5" fill="#0000FF" stroke="#333333" stroke-width="3.6"/>
<line x1="430.4" x2="463.7" y1="2106.7" y2="2106.7" stroke="#333333" stroke-width="6.9"/>
<line x1="484.0" x2="484.0" y1="1910.7" y2="2033.9" stroke="#333333" stroke-width="3.6"/>
<line x1="484.0" x2="484.0" y1="2125.4" y2="2202.7" stroke="#333333" stroke-width="3.6"/>
<rect x="467.4" y="2033.9" width="33.3" height="91.5" fill="#FFFF00" stroke="#333333" stroke-width="3.6"/>
<line x1="467.4" x2="500.6" y1="2079.0" y2="2079.0" stroke="#333333" stroke-width="6.9"/>
<circle cx="520.9" cy="1719.3" r="6.9" fill="#333333"/>
<line x1="520.9" x2="520.9" y1="1789.0" y2="1943.9" stroke="#333333" stroke-width="3.6"/>
<line x1="520.9" x2="520.9" y1="2066.7" y2="2166.7" stroke="#333333" stroke-width="3.6"/>
<rect x="504.3" y="1943.9" width="33.3" height="122.8" fill="#FF0000" stroke="#333333" stroke-width="3.6"/>
<line x1="504.3" x2="537.6" y1="2017.7" y2="2017.7" stroke="#333333" stroke-width="6.9"/>
<line x1="594.8" x2="594.8" y1="1994.0" y2="2073.3" stroke="#333333" stroke-width="3.6"/>
<line x1="594.8" x2="594.8" y1="2154.4" y2="2211.7" stroke="#333333" stroke-width="3.6"/>
<rect x="578.2" y="2073.3" width="33.3" height="81.1" fill="#0000FF" stroke="#333333" stroke-width="3.6"/>
<line x1="578.2" x2="611.5" y1="2115.7" y2="2115.7" stroke="#333333" stroke-width="6.9"/>
<circle cx="631.8" cy="1877.3" r="6.9" fill="#333333"/>
<line x1="631.8" x2="631.8" y1="1900.7" y2="2019.6" stroke="#333333" stroke-width="3.6"/>
<line x1="631.8" x2="631.8" y1="2109.4" y2="2225.0" stroke="#333333" stroke-width="3.6"/>
<rect x="615.1" y="2019.6" width="33.3" height="89.8" fill="#FFFF00" stroke="#333333" stroke-width="3.6"/>
<line x1="615.1" x2="648.4" y1="2061.0" y2="2061.0" stroke="#333333" stroke-width="6.9"/>
<circle cx="668.7" cy="1710.0" r="6.9" fill="#333333"/>
<line x1="668.7" x2="668.7" y1="1744.0" y2="1904.6" stroke="#333333" stroke-width="3.6"/>
<line x1="668.7" x2="668.7" y1="2020.1" y2="2124.0" stroke="#333333" stroke-width="3.6"/>
<rect x="652.0" y="1904.6" width="33.3" height="115.5" fill="#FF0000" stroke="#333333" stroke-width="3.6"/>
<line x1="652.0" x2="685.3" y1="1955.7" y2="1955.7" stroke="#333333" stroke-width="6.9"/>
<circle cx="742.6" cy="1954.3" r="6.9" fill="#333333"/>
<line x1="742.6" x2="742.6" y1="1998.3" y2="2104.9" stroke="#333333" stroke-width="3.6"/>
<line x1="742.6" x2="742.6" y1="2179.4" y2="2242.7" stroke="#333333" stroke-width="3.6"/>
<rect x="725.9" y="2104.9" width="33.3" height="74.5" fill="#0000FF" stroke="#333333" stroke-width="3.6"/>
<line x1="725.9" x2="759.2" y1="2147.3" y2="2147.3" stroke="#333333" stroke-width="6.9"/>
<line x1="779.5" x2="779.5" y1="1952.7" y2="2059.6" stroke="#333333" stroke-width="3.6"/>
<line x1="779.5" x2="779.5" y1="2137.1" y2="2226.7" stroke="#333333" stroke-width="3.6"/>
<rect x="762.9" y="2059.6" width="33.3" height="77.5" fill="#FFFF00" stroke="#333333" stroke-width="3.6"/>
<line x1="762.9" x2="796.1" y1="2096.7" y2="2096.7" stroke="#333333" stroke-width="6.9"/>
<line x1="816.4" x2="816.4" y1="1799.3" y2="1952.3" stroke="#333333" stroke-width="3.6"/>
<line x1="816.4" x2="816.4" y1="2095.4" y2="2192.3" stroke="#333333" stroke-width="3.6"/>
<rect x="799.8" y="1952.3" width="33.3" height="143.1" fill="#FF0000" stroke="#333333" stroke-width="3.6"/>
<line x1="799.8" x2="833.1" y1="2019.0" y2="2019.0" stroke="#333333" stroke-width="6.9"/>
<circle cx="890.3" cy="1922.7" r="6.9" fill="#333333"/>
<line x1="890.3" x2="890.3" y1="2000.0" y2="2095.6" stroke="#333333" stroke-width="3.6"/>
<line x1="890.3" x2="890.3" y1="2163.4" y2="2219.3" stroke="#333333" stroke-width="3.6"/>
<rect x="873.7" y="2095.6" width="33.3" height="67.8" fill="#0000FF" stroke="#333333" stroke-width="3.6"/>
<line x1="873.7" x2="907.0" y1="2131.7" y2="2131.7" stroke="#333333" stroke-width="6.9"/>
<circle cx="927.2" cy="1936.9" r="6.9" fill="#333333"/>
<circle cx="927.2" cy="1941.8" r="6.9" fill="#333333"/>
<circle cx="927.2" cy="1946.7" r="6.9" fill="#333333"/>
<circle cx="927.2" cy="1951.5" r="6.9" fill="#333333"/>
<circle cx="927.2" cy="1956.4" r="6.9" fill="#333333"/>
<line x1="927.2" x2="927.2" y1="1968.3" y2="2076.3" stroke="#333333" stroke-width="3.6"/>
<line x1="927.2" x2="927.2" y1="2153.4" y2="2219.0" stroke="#333333" stroke-width="3.6"/>
<rect x="910.6" y="2076.3" width="33.3" height="77.1" fill="#FFFF00" stroke="#333333" stroke-width="3.6"/>
<line x1="910.6" x2="943.9" y1="2116.7" y2="2116.7" stroke="#333333" stroke-width="6.9"/>
<line x1="964.2" x2="964.2" y1="1766.0" y2="1957.9" stroke="#333333" stroke-width="3.6"/>
<line x1="964.2" x2="964.2" y1="2095.1" y2="2212.3" stroke="#333333" stroke-width="3.6"/>
<rect x="947.5" y="1957.9" width="33.3" height="137.1" fill="#FF0000" stroke="#333333" stroke-width="3.6"/>
<line x1="947.5" x2="980.8" y1="2027.7" y2="2027.7" stroke="#333333" stroke-width="6.9"/>
<circle cx="1038.1" cy="1900.0" r="6.9" fill="#333333"/>
<line x1="1038.1" x2="1038.1" y1="1927.3" y2="2061.3" stroke="#333333" stroke-width="3.6"/>
<line x1="1038.1" x2="1038.1" y1="2161.7" y2="2208.3" stroke="#333333" stroke-width="3.6"/>
<rect x="1021.4" y="2061.3" width="33.3" height="100.5" fill="#0000FF" stroke="#333333" stroke-width="3.6"/>
<line x1="1021.4" x2="1054.7" y1="2119.0" y2="2119.0" stroke="#333333" stroke-width="6.9"/>
<circle cx="1075.0" cy="1935.2" r="6.9" fill="#333333"/>
<circle cx="1075.0" cy="1939.5" r="6.9" fill="#333333"/>
<circle cx="1075.0" cy="1943.8" r="6.9" fill="#333333"/>
<line x1="1075.0" x2="1075.0" y1="1950.0" y2="2068.9" stroke="#333333" stroke-width="3.6"/>
<line x1="1075.0" x2="1075.0" y1="2152.1" y2="2242.7" stroke="#333333" stroke-width="3.6"/>
<rect x="1058.3" y="2068.9" width="33.3" height="83.1" fill="#FFFF00" stroke="#333333" stroke-width="3.6"/>
<line x1="1058.3" x2="1091.7" y1="2112.3" y2="2112.3" stroke="#333333" stroke-width="6.9"/>
<line x1="1111.9" x2="1111.9" y1="1801.0" y2="1980.6" stroke="#333333" stroke-width="3.6"/>
<line x1="1111.9" x2="1111.9" y1="2102.7" y2="2204.0" stroke="#333333" stroke-width="3.6"/>
<rect x="1095.3" y="1980.6" width="33.3" height="122.1" fill="#FF0000" stroke="#333333" stroke-width="3.6"/>
<line x1="1095.3" x2="1128.6" y1="2040.0" y2="2040.0" stroke="#333333" stroke-width="6.9"/>
<circle cx="1185.8" cy="1966.0" r="6.9" fill="#333333"/>
<circle cx="1185.8" cy="1986.9" r="6.9" fill="#333333"/>
<circle cx="1185.8" cy="1991.3" r="6.9" fill="#333333"/>
<circle cx="1185.8" cy="1995.8" r="6.9" fill="#333333"/>
<line x1="1185.8" x2="1185.8" y1="2026.7" y2="2110.6" stroke="#333333" stroke-width="3.6"/>
<line x1="1185.8" x2="1185.8" y1="2171.1" y2="2239.3" stroke="#333333" stroke-width="3.6"/>
<rect x="1169.2" y="2110.6" width="33.3" height="60.5" fill="#0000FF" stroke="#333333" stroke-width="3.6"/>
<line x1="1169.2" x2="1202.5" y1="2139.3" y2="2139.3" stroke="#333333" stroke-width="6.9"/>
<circle cx="1222.8" cy="1983.6" r="6.9" fill="#333333"/>
<circle cx="1222.8" cy="1988.1" r="6.9" fill="#333333"/>
<circle cx="1222.8" cy="1992.7" r="6.9" fill="#333333"/>
<circle cx="1222.8" cy="1997.3" r="6.9" fill="#333333"/>
<circle cx="1222.8" cy="2001.9" r="6.9" fill="#333333"/>
<circle cx="1222.8" cy="2006.4" r="6.9" fill="#333333"/>
<line x1="1222.8" x2="1222.8" y1="2016.7" y2="2103.9" stroke="#333333" stroke-width="3.6"/>
<line x1="1222.8" x2="1222.8" y1="2167.7" y2="2244.0" stroke="#333333" stroke-width="3.6"/>
<rect x="1206.1" y="2103.9" width="33.3" height="63.8" fill="#FFFF00" stroke="#333333" stroke-width="3.6"/>
<line x1="1206.1" x2="1239.4" y1="2133.3" y2="2133.3" stroke="#333333" stroke-width="6.9"/>
<line x1="1259.7" x2="1259.7" y1="1841.7" y2="2010.6" stroke="#333333" stroke-width="3.6"/>
<line x1="1259.7" x2="1259.7" y1="2134.4" y2="2216.7" stroke="#333333" stroke-width="3.6"/>
<rect x="1243.0" y="2010.6" width="33.3" height="123.8" fill="#FF0000" stroke="#333333" stroke-width="3.6"/>
<line x1="1243.0" x2="1276.3" y1="2069.3" y2="2069.3" stroke="#333333" stroke-width="6.9"/>
<circle cx="1333.6" cy="1809.3" r="6.9" fill="#333333"/>
<circle cx="1333.6" cy="1824.0" r="6.9" fill="#333333"/>
<line x1="1333.6" x2="1333.6" y1="1879.3" y2="2008.9" stroke="#333333" stroke-width="3.6"/>
<line x1="1333.6" x2="1333.6" y1="2124.4" y2="2233.3" stroke="#333333" stroke-width="3.6"/>
<rect x="1316.9" y="2008.9" width="33.3" height="115.5" fill="#0000FF" stroke="#333333" stroke-width="3.6"/>
<line x1="1316.9" x2="1350.2" y1="2065.7" y2="2065.7" stroke="#333333" stroke-width="6.9"/>
<circle cx="1370.5" cy="1992.3" r="6.9" fill="#333333"/>
<line x1="1370.5" x2="1370.5" y1="2010.0" y2="2099.9" stroke="#333333" stroke-width="3.6"/>
<line x1="1370.5" x2="1370.5" y1="2167.7" y2="2230.0" stroke="#333333" stroke-width="3.6"/>
<rect x="1353.8" y="2099.9" width="33.3" height="67.8" fill="#FFFF00" stroke="#333333" stroke-width="3.6"/>
<line x1="1353.8" x2="1387.2" y1="2132.3" y2="2132.3" stroke="#333333" stroke-width="6.9"/>
<line x1="1407.4" x2="1407.4" y1="1748.3" y2="1953.3" stroke="#333333" stroke-width="3.6"/>
<line x1="1407.4" x2="1407.4" y1="2092.7" y2="2209.3" stroke="#333333" stroke-width="3.6"/>
<rect x="1390.8" y="1953.3" width="33.3" height="139.5" fill="#FF0000" stroke="#333333" stroke-width="3.6"/>
<line x1="1390.8" x2="1424.1" y1="2020.0" y2="2020.0" stroke="#333333" stroke-width="6.9"/>
</g>
<rect x="395.1" y="1682.70" width="3.9" height="587.60" fill="#333333"/>
<rect x="1455.6" y="1682.70" width="4.9" height="587.60" fill="#333333"/>
<rect x="395.1" y="1682.70" width="1065.4" height="4.0" fill="#333333"/>
<rect x="395.1" y="2265.60" width="1065.4" height="4.7" fill="#333333"/>
<rect x="395.0" y="1544.20" width="1065.5" height="139.60" fill="#fff"/>
<rect x="395.0" y="1544.20" width="5.85" height="139.60" fill="#000"/>
<rect x="1455.0" y="1544.20" width="5.5" height="139.60" fill="#000"/>
<rect x="395.0" y="1544.20" width="1065.5" height="5.6" fill="#000"/>
<rect x="395.0" y="1678.10" width="1065.5" height="5.7" fill="#000"/>
<line x1="372.9" x2="395.1" y1="1701.5" y2="1701.5" stroke="#333333" stroke-width="8"/>
<text class="ax" x="355.5" y="1728.5" text-anchor="end">3000</text>
<line x1="372.9" x2="395.1" y1="1900.7" y2="1900.7" stroke="#333333" stroke-width="8"/>
<text class="ax" x="355.5" y="1927.7" text-anchor="end">2000</text>
<line x1="372.9" x2="395.1" y1="2100.0" y2="2100.0" stroke="#333333" stroke-width="8"/>
<text class="ax" x="355.5" y="2127.0" text-anchor="end">1000</text>
<text class="st" x="927.4" y="99.5" text-anchor="middle">A.malmogiense</text>
<text class="st" x="927.4" y="869.5" text-anchor="middle" letter-spacing="0.3">G.corollarium</text>
<text class="st" x="927.4" y="1639.5" text-anchor="middle" word-spacing="5.5">H.arctica subsp.frigida</text>
<line x1="484.0" x2="484.0" y1="2270.3" y2="2292.3" stroke="#333333" stroke-width="8"/>
<text class="ax" x="484.0" y="2363" text-anchor="middle">3</text>
<line x1="631.8" x2="631.8" y1="2270.3" y2="2292.3" stroke="#333333" stroke-width="8"/>
<text class="ax" x="631.8" y="2363" text-anchor="middle">4</text>
<line x1="779.5" x2="779.5" y1="2270.3" y2="2292.3" stroke="#333333" stroke-width="8"/>
<text class="ax" x="779.5" y="2363" text-anchor="middle">5</text>
<line x1="927.2" x2="927.2" y1="2270.3" y2="2292.3" stroke="#333333" stroke-width="8"/>
<text class="ax" x="927.2" y="2363" text-anchor="middle">6</text>
<line x1="1075.0" x2="1075.0" y1="2270.3" y2="2292.3" stroke="#333333" stroke-width="8"/>
<text class="ax" x="1075.0" y="2363" text-anchor="middle">7</text>
<line x1="1222.8" x2="1222.8" y1="2270.3" y2="2292.3" stroke="#333333" stroke-width="8"/>
<text class="ax" x="1222.8" y="2363" text-anchor="middle">8</text>
<line x1="1370.5" x2="1370.5" y1="2270.3" y2="2292.3" stroke="#333333" stroke-width="8"/>
<text class="ax" x="1370.5" y="2363" text-anchor="middle">9</text>
<text class="tt" style="font-size:89.8px" x="927.7" y="2465.5" text-anchor="middle" xml:space="preserve">Salinity  (‰)</text>
<text class="tt" style="font-size:89.2px" transform="translate(99,1562) rotate(-90)" x="0" y="0" xml:space="preserve">Cell volume (<tspan class="mu" font-size="82" dx="-1.8">μ</tspan><tspan dx="1.9">m</tspan><tspan font-size="62.5" dy="-46.5" dx="-1.2">3</tspan><tspan dy="46.5" dx="4.4">)</tspan></text>
<text class="lt" x="1481" y="994.4" xml:space="preserve">Temperature <tspan x="1918.5">(</tspan> <tspan x="1962" letter-spacing="-1.5">°C</tspan><tspan x="2049.3">)</tspan></text>
<line x1="1506.5" x2="1506.5" y1="1060.9" y2="1104.5" stroke="#333333" stroke-width="3.5" stroke-linecap="round"/>
<rect x="1487.5" y="1069.5" width="38" height="26.4" fill="#0000FF" stroke="#333333" stroke-width="3.5" stroke-linejoin="round"/>
<line x1="1487.5" x2="1525.5" y1="1082.7" y2="1082.7" stroke="#333333" stroke-width="3.2"/>
<text class="ll" x="1569.6" y="1104.5">3</text>
<line x1="1506.5" x2="1506.5" y1="1116.8" y2="1160.4" stroke="#333333" stroke-width="3.5" stroke-linecap="round"/>
<rect x="1487.5" y="1125.4" width="38" height="26.4" fill="#FFFF00" stroke="#333333" stroke-width="3.5" stroke-linejoin="round"/>
<line x1="1487.5" x2="1525.5" y1="1138.6" y2="1138.6" stroke="#333333" stroke-width="3.2"/>
<text class="ll" x="1569.6" y="1160.4">6</text>
<line x1="1506.5" x2="1506.5" y1="1172.7" y2="1216.3" stroke="#333333" stroke-width="3.5" stroke-linecap="round"/>
<rect x="1487.5" y="1181.3" width="38" height="26.4" fill="#FF0000" stroke="#333333" stroke-width="3.5" stroke-linejoin="round"/>
<line x1="1487.5" x2="1525.5" y1="1194.5" y2="1194.5" stroke="#333333" stroke-width="3.2"/>
<text class="ll" x="1569.6" y="1216.3">9</text>
</svg></body></html>
